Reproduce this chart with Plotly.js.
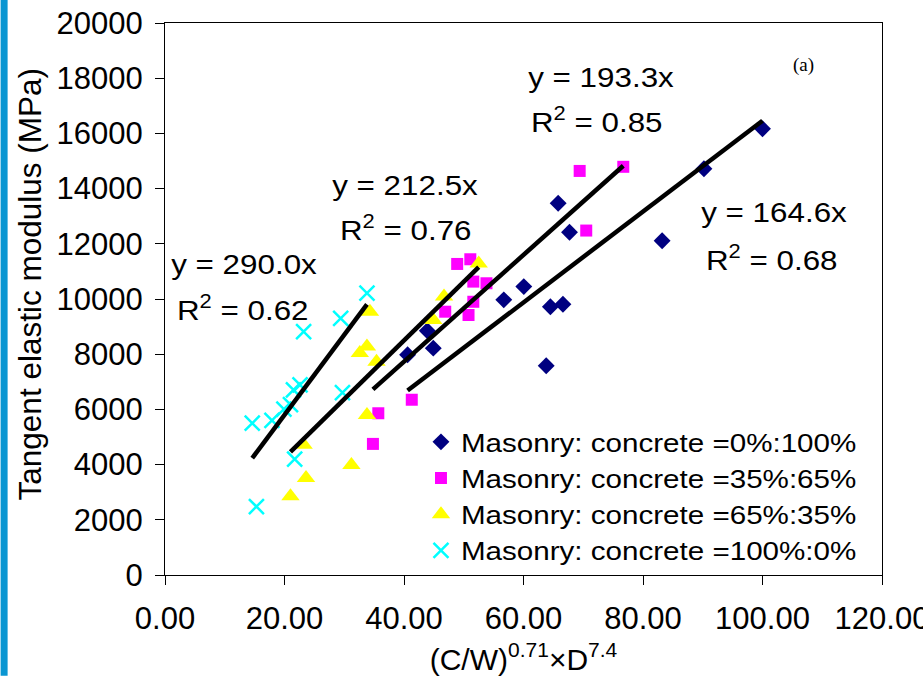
<!DOCTYPE html>
<html>
<head>
<meta charset="utf-8">
<script src="https://cdn.plot.ly/plotly-3.0.1.min.js"></script>
<style>
html,body{margin:0;padding:0;background:#fff;}
#chart{width:923px;height:676px;}
#chart g.legend g.scrollbox{clip-path:none !important;}
#chart g.legend{clip-path:none !important;}
#chart .legendtext{transform-box:fill-box;transform-origin:left center;transform:scaleX(1.16);}
#chart .annotation-text.wide{transform-box:fill-box;transform-origin:center center;transform:scaleX(1.12);}
</style>
</head>
<body>
<div id="chart"></div>
<script>
// Series names
const seriesNames = [
  "Masonry: concrete =0%:100%",
  "Masonry: concrete =35%:65%",
  "Masonry: concrete =65%:35%",
  "Masonry: concrete =100%:0%"
];

// Masonry:concrete = 0%:100%
const x0 = [100.0, 90.2, 83.2, 67.7, 65.8, 66.6, 64.5, 63.8, 60.05, 56.7, 44.9, 43.9, 40.6];
const y0 = [16170, 14720, 12110, 12420, 13470, 9810, 9720, 7580, 10450, 9970, 8220, 8850, 7980];

// Masonry:concrete = 35%:65%
const x35 = [76.7, 69.4, 70.5, 48.9, 51.1, 51.6, 53.8, 51.6, 46.9, 50.8, 41.3, 35.7, 34.8];
const y35 = [14790, 14640, 12480, 11270, 11440, 10630, 10570, 9900, 9540, 9420, 6350, 5860, 4750];

// Masonry:concrete = 65%:35%
const x65 = [52.5, 46.7, 44.9, 34.3, 33.8, 32.6, 35.4, 33.8, 23.2, 31.2, 23.6, 21.0];
const y65 = [11290, 10090, 9240, 9540, 8280, 8040, 7730, 5800, 4720, 3990, 3510, 2850];

// Masonry:concrete = 100%:0%
const x100 = [14.6, 17.9, 19.9, 21.0, 21.5, 22.6, 23.2, 29.4, 29.7, 33.8, 21.7, 15.3];
const y100 = [5500, 5600, 6010, 6170, 6710, 6890, 8820, 9300, 6610, 10210, 4200, 2480];

// Trend line slopes (y = a x) and R^2
const slopes = [164.6, 193.3, 212.5, 290.0];
const r2 = ["0.68", "0.85", "0.76", "0.62"];

// Annotation anchor positions (data units)
const eqX = [101.9, 73.0, 40.2, 13.3];
const eqY = [13125, 18014, 14097, 11236];
const r2X = [101.6, 72.3, 40.4, 13.1];
const r2Y = [11496, 16493, 12576, 9679];

const xTitle = "(C/W)<sup>0.71</sup>×D<sup>7.4</sup>";
const yTitle = "Tangent elastic modulus (MPa)";

const xs = [x0, x35, x65, x100];
const ys = [y0, y35, y65, y100];
const colors = ["#000080", "#FF00FF", "#FFFF00", "#00FFFF"];
const symbols = ["diamond", "square", "triangle-up", "x-thin-open"];
const sizes = [13, 12, 16, 15];

const FONT = "Liberation Sans, Arial, sans-serif";

const traces = [];
for (let i = 0; i < 4; i++) {
  const m = {color: colors[i], size: sizes[i], symbol: symbols[i]};
  if (symbols[i] === "x-thin-open") m.line = {color: colors[i], width: 2.5};
  else m.line = {width: 0};
  traces.push({
    type: "scatter", mode: "markers", name: seriesNames[i],
    x: xs[i], y: ys[i], marker: m, cliponaxis: false
  });
}
for (let i = 0; i < 4; i++) {
  const xmin = Math.min(...xs[i]), xmax = Math.max(...xs[i]);
  traces.push({
    type: "scatter", mode: "lines", showlegend: false, hoverinfo: "skip",
    x: [xmin, xmax], y: [slopes[i] * xmin, slopes[i] * xmax],
    line: {color: "#000", width: 4.5}
  });
}

const annotations = [];
for (let i = 0; i < 4; i++) {
  annotations.push({x: eqX[i], y: eqY[i], xref: "x", yref: "y", showarrow: false,
    text: "y = " + slopes[i].toFixed(1) + "x", font: {family: FONT, size: 28, color: "#000"}});
  annotations.push({x: r2X[i], y: r2Y[i], xref: "x", yref: "y", showarrow: false,
    text: "R<sup>2</sup> = " + r2[i], font: {family: FONT, size: 28, color: "#000"}});
}
annotations.push({x: 106.8, y: 18480, xref: "x", yref: "y", showarrow: false,
  text: "(a)", font: {family: "Liberation Serif, Times New Roman, serif", size: 19, color: "#000"}});
// y-axis title placed as rotated annotation
annotations.push({x: (29 - 164.5) / 717.5, y: (575.3 - 285) / 552.3, xref: "paper", yref: "paper",
  xanchor: "center", yanchor: "middle", showarrow: false, textangle: -90,
  text: yTitle, font: {family: FONT, size: 31.5, color: "#000"}});

const layout = {
  width: 923, height: 676,
  margin: {l: 164.5, r: 41, t: 23, b: 100.7, pad: 0},
  paper_bgcolor: "#fff", plot_bgcolor: "#fff",
  font: {family: FONT, color: "#000"},
  showlegend: true,
  legend: {
    x: 0.357, y: 0.283, xanchor: "left", yanchor: "top",
    bgcolor: "rgba(0,0,0,0)", borderwidth: 0,
    font: {family: FONT, size: 25.5, color: "#000"},
    itemwidth: 30, tracegroupgap: 0
  },
  xaxis: {
    range: [0, 120], dtick: 20, tick0: 0, tickformat: ".2f",
    showgrid: false, zeroline: false,
    showline: true, linecolor: "#000", linewidth: 1, mirror: true,
    ticks: "outside", ticklen: 9, tickcolor: "#000", tickwidth: 1,
    tickfont: {family: FONT, size: 31, color: "#000"},
    ticklabelstandoff: 7, ticklabeloverflow: "allow",
    title: {text: xTitle, font: {family: FONT, size: 30, color: "#000"}, standoff: 13},
    automargin: false
  },
  yaxis: {
    range: [0, 20000], dtick: 2000, tick0: 0, tickformat: "d",
    showgrid: false, zeroline: false,
    showline: true, linecolor: "#000", linewidth: 1, mirror: true,
    ticks: "outside", ticklen: 9, tickcolor: "#000", tickwidth: 1,
    tickfont: {family: FONT, size: 31, color: "#000"},
    ticklabelstandoff: 6, ticklabeloverflow: "allow",
    automargin: false
  },
  annotations: annotations,
  shapes: [{
    type: "rect", xref: "paper", yref: "paper",
    x0: -164.5 / 717.5, x1: (7 - 164.5) / 717.5,
    y0: -100.7 / 552.3, y1: (552.3 + 23) / 552.3,
    fillcolor: "#0A96D2", line: {width: 0}, layer: "below"
  }]
};

Plotly.newPlot("chart", traces, layout, {displayModeBar: false, staticPlot: true}).then(function (gd) {
  // widen the equation labels a little, like the reference
  const els = gd.querySelectorAll(".annotation-text");
  els.forEach(function (el, k) { if (k < 8) el.classList.add("wide"); });
});
</script>
</body>
</html>
